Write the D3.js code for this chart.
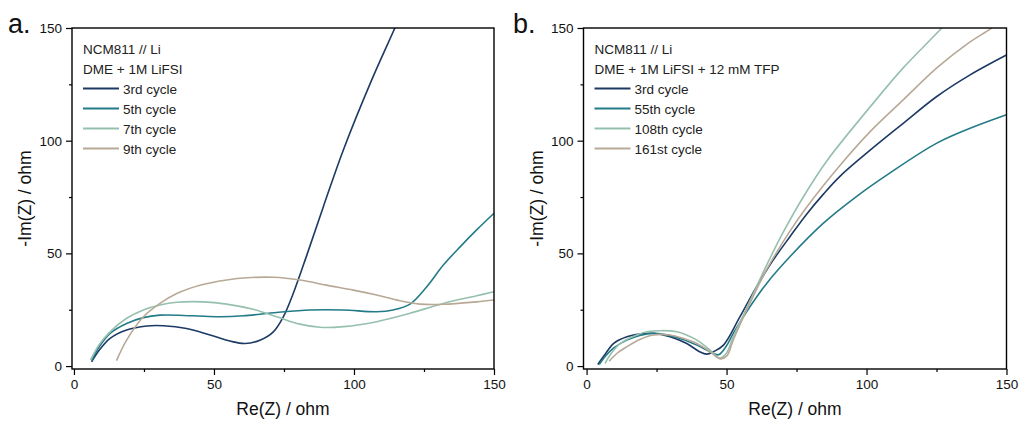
<!DOCTYPE html>
<html><head><meta charset="utf-8">
<script src="https://cdn.jsdelivr.net/npm/d3@7"></script>
<style>
html,body{margin:0;padding:0;background:#fff;}
svg{display:block;font-family:"Liberation Sans",Arial,sans-serif;}
</style></head>
<body><svg id="c" width="1019" height="421"></svg>
<script>
// ---- data ----
const xTicks = [0, 50, 100, 150];
const yTicks = [0, 50, 100, 150];
const minorTicks = [25, 75, 125];

const seriesNamesA = ["3rd cycle", "5th cycle", "7th cycle", "9th cycle"];
const seriesNamesB = ["3rd cycle", "55th cycle", "108th cycle", "161st cycle"];
const headerA = ["NCM811 // Li", "DME + 1M LiFSI"];
const headerB = ["NCM811 // Li", "DME + 1M LiFSI + 12 mM TFP"];
const colors = ["#1c3a64", "#237b87", "#96c0ae", "#b8a997"];

// panel a: [Re(Z), -Im(Z)]
const a3rd = [[6.3,1.9],[9,7],[12.9,12.3],[18.8,16],[26,17.8],[31.9,17.9],[40.2,16.7],[48.6,13.8],[55.7,11.1],[61.1,10],[66.4,11.5],[71.2,15.2],[74.8,21.9],[78.3,32.2],[83.1,49],[89,70.5],[96.2,95.9],[106.3,126.9],[114.6,150],[117,157]];
const a5th = [[6.3,2.3],[9,8.5],[12.9,14.5],[18.8,18.9],[24.8,21.5],[30.7,22.6],[42.6,22.3],[52.1,21.9],[60.5,22.3],[72.4,23.8],[84.3,24.9],[96.2,24.9],[108.1,24.1],[114,24.9],[120,27.5],[126,35.2],[131.9,44.8],[137.9,52.9],[143.8,60.4],[150,67.8]];
const a7th = [[5.9,2.6],[9,9.5],[12.9,15.2],[18.8,21.2],[24.8,24.9],[30.7,27.1],[36.7,28.3],[46.2,28.5],[54.5,27.5],[64,25.2],[72.4,21.9],[80.7,18.6],[87.9,17.2],[96.2,17.5],[108.1,19.7],[120,23.4],[131.9,27.8],[143.8,31.2],[150,33]];
const a9th = [[15.2,2.4],[18.8,11.5],[24.8,21.9],[30.7,27.8],[36.7,32.2],[45,35.9],[54.5,38.2],[61.7,39.2],[71.2,39.4],[80.7,38.2],[90.2,35.9],[99.8,33.7],[108.1,31.5],[116.4,29],[123.6,27.5],[131.9,27.4],[143.8,28.5],[150,29.3]];

// panel b
const b3rd = [[4,0.7],[6.5,5],[9.6,10],[14.4,13],[19,14.2],[23.9,14.5],[29.8,13],[35.8,10],[40.2,6.5],[42.9,5.3],[45.5,6.5],[48.9,9.3],[54.8,21.9],[60.8,35.3],[66.7,47.1],[72.7,57.5],[78.6,67.4],[84.6,76.3],[90.5,84.2],[101.3,95.8],[113.1,107.7],[125.1,119.6],[137,129.2],[150,138]];
const b55th = [[4.5,0.7],[6.8,4.5],[9.6,8],[14.4,11.5],[19,13.6],[23.9,14.5],[32.2,12.7],[39.4,9.3],[44.1,6.4],[47.1,5],[50,9],[52.4,14.5],[58.4,26.4],[64.4,36.8],[72.7,48.6],[84.6,63.4],[96.5,75.3],[108.4,85.7],[125.1,98.9],[137,105.5],[150,111.5]];
const b108th = [[6.6,1.2],[9,6],[12,10],[17.9,13.8],[22,15.3],[26.3,15.7],[32.2,15.2],[39.4,11.5],[44.1,7.1],[47.4,3.6],[49.8,5.5],[52.4,13],[58.4,29],[64.4,45],[70.3,59.5],[77.4,75],[85.8,91],[101.3,115],[113.1,132.3],[126.9,150],[132,157]];
const b161st = [[8.1,2.2],[11,5.8],[14.4,8.6],[19,11.8],[23.9,13.8],[29.8,13.8],[34.5,12.3],[39.4,10],[44.1,6.4],[47.7,3.2],[50.1,4.5],[52.4,11.6],[58.4,28],[64.4,43],[72.7,60],[78.6,70.5],[90.5,89],[101.3,104],[113.1,118.1],[125.1,132.3],[136,143],[144.7,150],[150,155]];

const seriesA = [a3rd, a5th, a7th, a9th];
const seriesB = [b3rd, b55th, b108th, b161st];

// ---- drawing ----
const svg = d3.select("#c");
const FONT = '"Liberation Sans",Arial,sans-serif';

function panel(opts) {
  const {left, right, top, bottom, xDom, yDom, series, names, header, letter, letterX, id} = opts;
  const x = d3.scaleLinear().domain(xDom).range([left, right]);
  const y = d3.scaleLinear().domain(yDom).range([bottom, top]);
  const g = svg.append("g");

  g.append("clipPath").attr("id", id).append("rect")
    .attr("x", left).attr("y", top).attr("width", right - left).attr("height", bottom - top);

  const line = d3.line().x(d => x(d[0])).y(d => y(d[1])).curve(d3.curveCatmullRom.alpha(0.5));
  const lg = g.append("g").attr("clip-path", `url(#${id})`);
  series.forEach((s, i) => {
    lg.append("path").datum(s).attr("d", line)
      .attr("fill", "none").attr("stroke", colors[i]).attr("stroke-width", 1.6)
      .attr("stroke-linejoin", "round");
  });

  // x axis
  const xAxis = d3.axisBottom(x).tickValues(xTicks).tickSize(6).tickPadding(4).tickFormat(d3.format("d"));
  const xg = g.append("g").attr("transform", `translate(0,${bottom})`).call(xAxis);
  const xMinor = d3.axisBottom(x).tickValues(minorTicks).tickSize(3).tickFormat("");
  const xmg = g.append("g").attr("transform", `translate(0,${bottom})`).call(xMinor);
  // y axis
  const yAxis = d3.axisLeft(y).tickValues(yTicks).tickSize(6).tickPadding(4).tickFormat(d3.format("d"));
  const yg = g.append("g").attr("transform", `translate(${left},0)`).call(yAxis);
  const yMinor = d3.axisLeft(y).tickValues(minorTicks).tickSize(3).tickFormat("");
  const ymg = g.append("g").attr("transform", `translate(${left},0)`).call(yMinor);

  [xg, xmg, yg, ymg].forEach(a => {
    a.select(".domain").remove();
    a.selectAll("line").attr("stroke", "#000").attr("stroke-width", 1.2);
    a.selectAll("text").attr("font-family", FONT).attr("font-size", 13.5).attr("fill", "#111");
  });

  // frame
  g.append("rect").attr("x", left).attr("y", top).attr("width", right - left).attr("height", bottom - top)
    .attr("fill", "none").attr("stroke", "#000").attr("stroke-width", 1.4);

  // axis titles
  g.append("text").attr("x", (left + right) / 2).attr("y", 415).attr("text-anchor", "middle")
    .attr("font-size", 17.5).attr("fill", "#111").text("Re(Z) / ohm");
  g.append("text").attr("transform", `translate(${left - 41},${(top + bottom) / 2}) rotate(-90)`)
    .attr("text-anchor", "middle").attr("font-size", 17.5).attr("fill", "#111").text("-Im(Z) / ohm");

  // panel letter
  g.append("text").attr("x", letterX).attr("y", 33).attr("font-size", 27).attr("fill", "#111").text(letter);

  // legend
  const lx = left + 11;
  header.forEach((h, i) => {
    g.append("text").attr("x", lx).attr("y", 54 + i * 19.7).attr("font-size", 13.5).attr("fill", "#222").text(h);
  });
  names.forEach((n, i) => {
    const ly = 88.5 + i * 20;
    g.append("line").attr("x1", lx).attr("x2", lx + 36).attr("y1", ly).attr("y2", ly)
      .attr("stroke", colors[i]).attr("stroke-width", 2);
    g.append("text").attr("x", lx + 40).attr("y", ly + 5).attr("font-size", 13.5).attr("fill", "#222").text(n);
  });
}

panel({left: 72, right: 494, top: 28, bottom: 369, xDom: [-0.7, 150], yDom: [-1.3, 150],
  series: seriesA, names: seriesNamesA, header: headerA, letter: "a.", letterX: 8, id: "clipA"});
panel({left: 583.5, right: 1006.5, top: 28, bottom: 369, xDom: [-1.1, 150], yDom: [-1.3, 150],
  series: seriesB, names: seriesNamesB, header: headerB, letter: "b.", letterX: 513, id: "clipB"});
</script></body></html>
